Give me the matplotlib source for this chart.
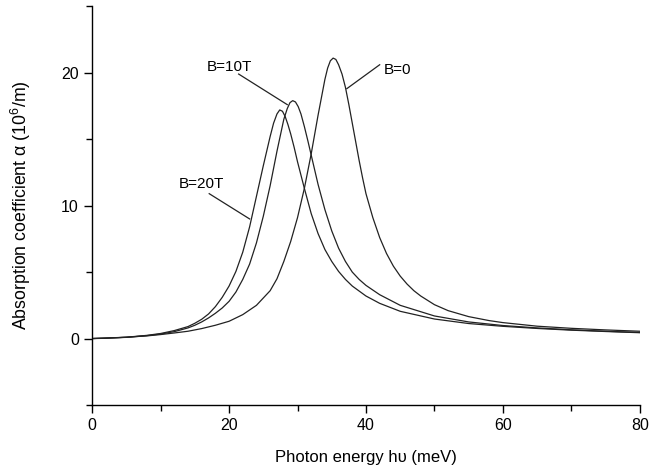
import matplotlib
matplotlib.use('Agg')
import matplotlib.pyplot as plt
from matplotlib.ticker import MultipleLocator

plt.rcParams['font.family'] = ['Liberation Sans Narrow', 'Liberation Sans', 'DejaVu Sans']
plt.rcParams['mathtext.fontset'] = 'custom'
plt.rcParams['mathtext.rm'] = 'Liberation Sans'

# values (x in meV, y in 10^6/m)
x_b0 = [0, 2, 5, 8, 10, 12, 14, 16, 18, 20, 22, 24, 26, 27, 28, 29, 30, 31, 32, 33,
        34, 34.4, 34.8, 35.2, 35.6, 36, 36.5, 37, 37.5, 38, 38.5, 39, 39.5, 40, 41,
        42, 43, 44, 45, 46, 47, 48, 50, 52, 55, 58, 60, 65, 70, 75, 80]
y_b0 = [0, 0.04, 0.1, 0.2, 0.3, 0.42, 0.55, 0.75, 1.0, 1.3, 1.8, 2.5, 3.6, 4.5, 5.8,
        7.3, 9.1, 11.3, 13.9, 16.8, 19.5, 20.35, 20.9, 21.1, 21.0, 20.6, 19.9, 18.9,
        17.6, 16.2, 14.8, 13.4, 12.1, 10.9, 9.1, 7.6, 6.4, 5.45, 4.7, 4.1, 3.6, 3.2,
        2.55, 2.1, 1.65, 1.35, 1.2, 0.93, 0.77, 0.65, 0.55]

x_b10 = [0, 5, 8, 10, 12, 14, 15, 16, 17, 18, 19, 20, 21, 22, 23, 24, 25, 26, 27, 28,
         28.5, 28.9, 29.3, 29.7, 30.1, 30.5, 31, 31.5, 32, 33, 34, 35, 36, 37, 38,
         39, 40, 42, 45, 50, 55, 60, 65, 70, 75, 80]
y_b10 = [0, 0.09, 0.22, 0.34, 0.52, 0.8, 1.0, 1.25, 1.55, 1.9, 2.3, 2.8, 3.5, 4.45,
         5.6, 7.2, 9.2, 11.5, 14.1, 16.5, 17.3, 17.75, 17.9, 17.8, 17.45, 16.9,
         15.95, 14.9, 13.8, 11.6, 9.7, 8.1, 6.8, 5.8, 5.0, 4.45, 4.0, 3.3, 2.5, 1.7,
         1.25, 0.98, 0.8, 0.66, 0.55, 0.46]

x_b20 = [0, 2, 5, 8, 10, 12, 14, 15, 16, 17, 18, 19, 20, 21, 22, 23, 24, 25, 25.5,
         26, 26.5, 27, 27.4, 27.8, 28.2, 28.6, 29, 29.5, 30, 31, 32, 33, 34, 35, 36,
         37, 38, 40, 42, 45, 50, 55, 60, 65, 70, 75, 80]
y_b20 = [0, 0.02, 0.1, 0.24, 0.38, 0.6, 0.9, 1.15, 1.45, 1.85, 2.4, 3.1, 3.95, 5.05,
         6.5, 8.4, 10.7, 13.0, 14.1, 15.2, 16.2, 16.9, 17.2, 17.1, 16.7, 16.1, 15.4,
         14.4, 13.3, 11.3, 9.4, 7.9, 6.7, 5.8, 5.05, 4.45, 3.95, 3.2, 2.65, 2.05,
         1.47, 1.13, 0.92, 0.76, 0.63, 0.53, 0.44]

# curve labels: text, text position, leader line start, leader line end
labels = ['B=0', 'B=10T', 'B=20T']
label_xy = [(44.6, 20.2), (20.0, 20.4), (15.9, 11.65)]
leader_from = [(42.0, 20.6), (21.4, 19.9), (17.1, 10.9)]
leader_to = [(37.2, 18.8), (28.5, 17.6), (23.0, 9.0)]

fig = plt.figure(figsize=(6.63, 4.68), dpi=100)
ax = fig.add_axes([0.139, 0.1346, 0.826, 0.852])

for xs, ys in [(x_b0, y_b0), (x_b10, y_b10), (x_b20, y_b20)]:
    ax.plot(xs, ys, color='#222222', lw=0.9)

for txt, (tx, ty), (x1, y1), (x2, y2) in zip(labels, label_xy, leader_from, leader_to):
    ax.text(tx, ty, txt, ha='center', va='center', fontsize=11)
    ax.plot([x1, x2], [y1, y2], color='#222222', lw=0.9)

ax.set_xlim(0, 80)
ax.set_ylim(-5, 25)
ax.xaxis.set_major_locator(MultipleLocator(20))
ax.xaxis.set_minor_locator(MultipleLocator(10))
ax.yaxis.set_major_locator(MultipleLocator(10))
ax.yaxis.set_minor_locator(MultipleLocator(5))
ax.set_yticks([0, 10, 20])

for s in ['top', 'right']:
    ax.spines[s].set_visible(False)
for s in ['left', 'bottom']:
    ax.spines[s].set_linewidth(1.0)

ax.tick_params(which='major', direction='out', length=6, width=1.0, labelsize=11.5)
ax.tick_params(which='minor', direction='out', length=4, width=1.0)

ax.set_xlabel('Photon energy hυ (meV)', fontsize=12, labelpad=12)
ax.set_ylabel('Absorption coefficient α (10$^6$/m)', fontsize=12.8, labelpad=20)

fig.savefig('out.png', dpi=100)
